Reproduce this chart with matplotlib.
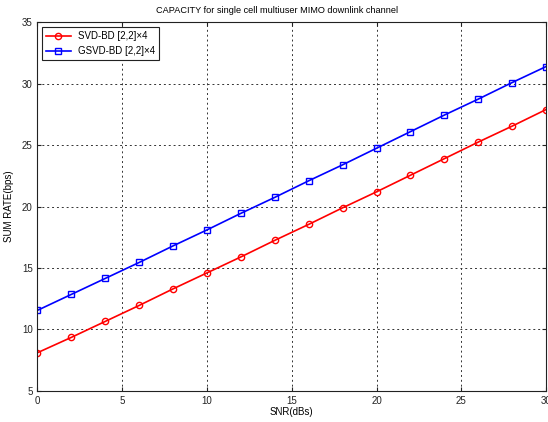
import matplotlib
matplotlib.use("Agg")
import matplotlib.pyplot as plt

snr = [0, 2, 4, 6, 8, 10, 12, 14, 16, 18, 20, 22, 24, 26, 28, 30]
svd_bd = [8.1, 9.35, 10.65, 11.95, 13.3, 14.6, 15.9, 17.25, 18.55, 19.9,
          21.2, 22.55, 23.9, 25.25, 26.55, 27.9]
gsvd_bd = [11.55, 12.85, 14.15, 15.45, 16.8, 18.1, 19.45, 20.75, 22.1, 23.4,
           24.75, 26.1, 27.45, 28.75, 30.1, 31.4]
xticks = [0, 5, 10, 15, 20, 25, 30]
yticks = [5, 10, 15, 20, 25, 30, 35]

plt.rcParams.update({"font.family": ["Liberation Sans", "DejaVu Sans"], "font.size": 7})

fig = plt.figure(figsize=(5.48, 4.22), dpi=100)
ax = fig.add_axes([0.0684, 0.074, 0.928, 0.873])

ax.plot(snr, svd_bd, color="red", lw=1.2, marker="o", ms=4.5, mfc="none", mew=1.0,
        label="SVD-BD [2,2]\u00d74")
ax.plot(snr, gsvd_bd, color="blue", lw=1.2, marker="s", ms=4.5, mfc="none", mew=1.0,
        label="GSVD-BD [2,2]\u00d74")

ax.set_xlim(0, 30)
ax.set_ylim(5, 35)
ax.set_xticks(xticks)
ax.set_yticks(yticks)
ax.tick_params(direction="in", length=3, top=True, right=True, colors="#222222")
ax.grid(True, ls=(0, (2, 3)), color="#333333", lw=0.7)
for s in ax.spines.values():
    s.set_color("#222222")
    s.set_linewidth(0.8)

ax.set_xlabel("SNR(dBs)", labelpad=1)
ax.set_ylabel("SUM RATE(bps)", labelpad=6)
# title in the reference is set narrower than the other texts, a bit left of centre
ax.set_title("CAPACITY for single cell multiuser MIMO downlink channel", pad=7, x=0.471,
             family=["Liberation Sans Narrow", "Liberation Sans"], fontsize=6.6)

leg = ax.legend(loc="upper left", fancybox=False, edgecolor="#222222", framealpha=1,
                borderaxespad=0.5, handlelength=2.5, borderpad=0.4, labelspacing=0.5)
leg.get_frame().set_linewidth(0.8)

fig.savefig("out.png", dpi=100)
